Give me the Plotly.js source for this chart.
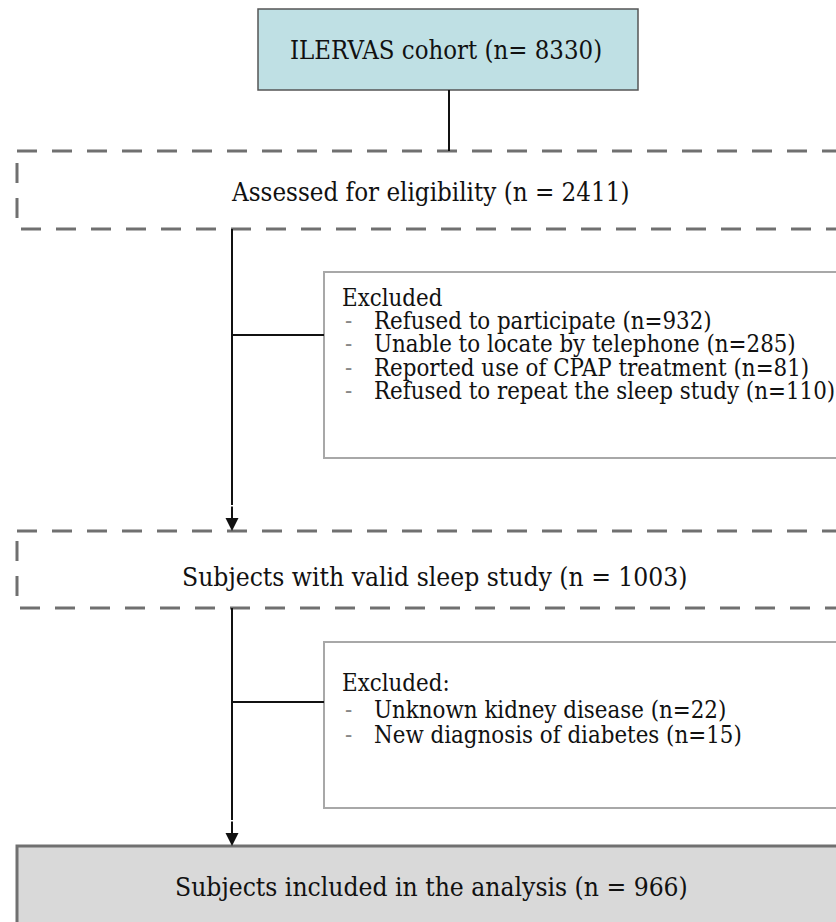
<!DOCTYPE html>
<html>
<head>
<meta charset="utf-8">
<script src="https://cdn.plot.ly/plotly-3.0.1.min.js"></script>
<style>html,body{margin:0;padding:0;background:#fff;}#chart{width:836px;height:922px;}</style>
</head>
<body>
<div id="chart"></div>
<script>
// ---- data ----
const stageLabels = ["ILERVAS cohort", "Assessed for eligibility", "Subjects with valid sleep study", "Subjects included in the analysis"];
const stageN = [8330, 2411, 1003, 966];
const excl1Title = "Excluded";
const excl1Reasons = ["Refused to participate", "Unable to locate by telephone", "Reported use of CPAP treatment", "Refused to repeat the sleep study"];
const excl1N = [932, 285, 81, 110];
const excl2Title = "Excluded:";
const excl2Reasons = ["Unknown kidney disease", "New diagnosis of diabetes"];
const excl2N = [22, 15];

// ---- layout geometry (pixels, y downwards) ----
const FONT = "DejaVu Serif Condensed, DejaVu Serif, serif";
const R = 900; // right edge beyond the page
const topBox = {x0: 258, x1: 638, y0: 9, y1: 90};
const dash1 = {x0: 17, x1: R, y0: 151, y1: 229};
const dash2 = {x0: 17, x1: R, y0: 531, y1: 608};
const exBox1 = {x0: 324, x1: R, y0: 272, y1: 458};
const exBox2 = {x0: 324, x1: R, y0: 642, y1: 808};
const botBox = {x0: 17, x1: R, y0: 846, y1: 960};
const spineX = 232;

const shapes = [];
const annotations = [];

function rect(b, line, fill) {
  shapes.push({type: "rect", xref: "x", yref: "y", x0: b.x0, x1: b.x1, y0: b.y0, y1: b.y1,
    line: line, fillcolor: fill || "rgba(0,0,0,0)", layer: "below"});
}
function seg(x0, y0, x1, y1) {
  shapes.push({type: "line", xref: "x", yref: "y", x0: x0, y0: y0, x1: x1, y1: y1,
    line: {color: "#111", width: 2}});
}
function arrow(x, y0, y1) {
  annotations.push({x: x, y: y1, ax: x, ay: y0, xref: "x", yref: "y", axref: "x", ayref: "y",
    text: "", showarrow: true, arrowhead: 2, arrowsize: 1.3, arrowwidth: 2, arrowcolor: "#111"});
}
function label(x, y, txt, size, anchor, color) {
  annotations.push({x: x, y: y, xref: "x", yref: "y", text: txt, showarrow: false,
    xanchor: anchor || "center", yanchor: "middle",
    font: {family: FONT, size: size, color: color || "#111"}});
}

// boxes
rect(topBox, {color: "#555", width: 1.5}, "#bfe0e4");
rect(dash1, {color: "#707070", width: 3, dash: "20px,15px"});
rect(dash2, {color: "#707070", width: 3, dash: "20px,15px"});
rect(exBox1, {color: "#a8a8a8", width: 2});
rect(exBox2, {color: "#a8a8a8", width: 2});
rect(botBox, {color: "#707070", width: 3}, "#d9d9d9");

// connectors
seg(449, topBox.y1, 449, dash1.y0);
seg(spineX, dash1.y1, spineX, 505);
arrow(spineX, 505, dash2.y0);
seg(spineX, 335, exBox1.x0, 335);
seg(spineX, dash2.y1, spineX, 820);
arrow(spineX, 820, botBox.y0);
seg(spineX, 702, exBox2.x0, 702);

// stage texts
label(446, 50, stageLabels[0] + " (n= " + stageN[0] + ")", 25.5);
label(430, 192, stageLabels[1] + " (n = " + stageN[1] + ")", 25.7);
label(435, 577, stageLabels[2] + " (n = " + stageN[2] + ")", 26.2);
label(431, 887, stageLabels[3] + " (n = " + stageN[3] + ")", 26.2);

// exclusion lists
const EXS = 23.8;
const ex1Y = [298, 321, 344, 368, 391];
label(340, ex1Y[0], excl1Title, EXS, "left");
excl1Reasons.forEach((r, i) => {
  label(343, ex1Y[i + 1], "-", EXS, "left", "#888");
  label(372, ex1Y[i + 1], r + " (n=" + excl1N[i] + ")", EXS, "left");
});
const ex2Y = [683, 710, 735];
label(340, ex2Y[0], excl2Title, EXS, "left");
excl2Reasons.forEach((r, i) => {
  label(343, ex2Y[i + 1], "-", EXS, "left", "#888");
  label(372, ex2Y[i + 1], r + " (n=" + excl2N[i] + ")", EXS, "left");
});

const layout = {
  width: 836, height: 922,
  margin: {l: 0, r: 0, t: 0, b: 0},
  paper_bgcolor: "#fff", plot_bgcolor: "#fff",
  showlegend: false,
  xaxis: {range: [0, 836], visible: false, fixedrange: true},
  yaxis: {range: [922, 0], visible: false, fixedrange: true},
  shapes: shapes,
  annotations: annotations
};
Plotly.newPlot("chart", [{x: [], y: [], type: "scatter", mode: "markers", hoverinfo: "skip"}], layout,
  {staticPlot: true, displayModeBar: false});
</script>
</body>
</html>
